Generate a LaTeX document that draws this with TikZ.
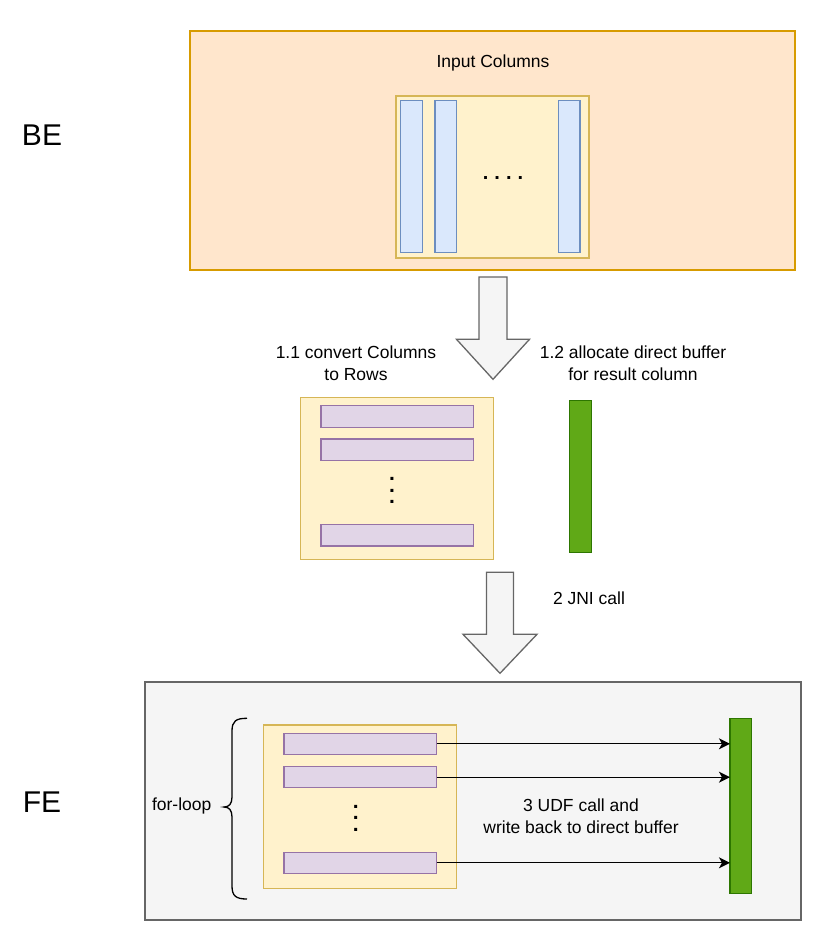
\documentclass[tikz,border=0pt]{standalone}
\usepackage{fontspec}
\setmainfont{Liberation Sans}
\usetikzlibrary{arrows.meta}
\definecolor{beFill}{HTML}{FFE6CC}
\definecolor{beLine}{HTML}{D79B00}
\definecolor{yFill}{HTML}{FFF2CC}
\definecolor{yLine}{HTML}{D6B656}
\definecolor{bFill}{HTML}{DAE8FC}
\definecolor{bLine}{HTML}{6C8EBF}
\definecolor{pFill}{HTML}{E1D5E7}
\definecolor{pLine}{HTML}{9673A6}
\definecolor{gFill}{HTML}{60A917}
\definecolor{gLine}{HTML}{2D7600}
\definecolor{feFill}{HTML}{F5F5F5}
\definecolor{feLine}{HTML}{666666}
\tikzset{
  base/.style={inner sep=0pt, outer sep=0pt, line width=1.3pt, draw},
  bebox/.style={base, fill=beFill, draw=beLine},
  ybox/.style={base, fill=yFill, draw=yLine},
  colbox/.style={base, fill=bFill, draw=bLine},
  rowbox/.style={base, fill=pFill, draw=pLine},
  gbox/.style={base, fill=gFill, draw=gLine},
  febox/.style={base, fill=feFill, draw=feLine},
  blockarrow/.style={fill=feFill, draw=feLine, line width=1.3pt, line join=miter},
  lbl/.style={inner sep=0pt, font=\fontsize{17.5}{22}\selectfont, align=center},
  big/.style={inner sep=0pt, font=\fontsize{30}{36}\selectfont},
  vdots/.style={inner sep=0pt, font=\fontsize{21}{11.5}\selectfont\bfseries, align=center},
  conn/.style={line width=1.3pt, -{Stealth[length=11pt,width=11pt,inset=3pt]}},
}
\begin{document}
\begin{tikzpicture}[x=1pt,y=-1pt]
\useasboundingbox (0,0) rectangle (832,948);
% BE section
\node[big] (belbl) at (42,135) {BE};
\node[bebox, minimum width=605, minimum height=239] (be) at (492.5,150.5) {};
\node[lbl] (inlbl) at (493,63) {Input Columns};
\node[ybox, minimum width=193, minimum height=162] (incol) at (492.5,177) {};
\node[colbox, minimum width=21.6, minimum height=151.6] (c1) at (411.5,176.5) {};
\node[colbox, minimum width=21.6, minimum height=151.6] (c2) at (445.8,176.5) {};
\node[colbox, minimum width=21.6, minimum height=151.6] (c3) at (569.2,176.5) {};
\node[inner sep=0pt, anchor=base, font=\fontsize{20}{12}\selectfont\bfseries] (hdots) at (503,179) {.\hspace{6pt}.\hspace{6pt}.\hspace{6pt}.};
% block arrow 1
\draw[blockarrow] (479,277) -- (507,277) -- (507,339.3) -- (529.5,339.3) -- (493,379.3) -- (456.5,339.3) -- (479,339.3) -- cycle;
\node[lbl] (t11) at (356,363) {1.1 convert Columns\\to Rows};
\node[lbl] (t12) at (633,363) {1.2 allocate direct buffer\\for result column};
% middle
\node[ybox, minimum width=193, minimum height=162] (rows) at (397.2,478.3) {};
\node[rowbox, minimum width=152.3, minimum height=21.6] (m1) at (397.2,416.5) {};
\node[rowbox, minimum width=152.3, minimum height=21.6] (m2) at (397.2,449.8) {};
\node[rowbox, minimum width=152.3, minimum height=21.6] (m3) at (397.2,535.2) {};
\node[vdots] (mdots) at (392,490.5) {.\\.\\.};
\node[gbox, minimum width=22.4, minimum height=152] (g1) at (580.5,476.7) {};
% block arrow 2
\draw[blockarrow] (486.5,572.3) -- (513.5,572.3) -- (513.5,634.3) -- (537,634.3) -- (500,673.3) -- (463,634.3) -- (486.5,634.3) -- cycle;
\node[lbl] (t2) at (589,598) {2 JNI call};
% FE section
\node[big] (felbl) at (42,802) {FE};
\node[febox, minimum width=656, minimum height=238] (fe) at (473,801) {};
\node[ybox, minimum width=193.4, minimum height=163.3] (loop) at (360,806.7) {};
\node[rowbox, minimum width=152.7, minimum height=21] (r1) at (360.3,743.8) {};
\node[rowbox, minimum width=152.7, minimum height=21] (r2) at (360.3,777.2) {};
\node[rowbox, minimum width=152.7, minimum height=21] (r3) at (360.3,862.8) {};
\node[vdots] (fdots) at (355.7,818) {.\\.\\.};
\node[gbox, minimum width=21.7, minimum height=175] (g2) at (740.8,805.8) {};
\draw[conn] (r1.east) -- (g2.west |- r1.east);
\draw[conn] (r2.east) -- (g2.west |- r2.east);
\draw[conn] (r3.east) -- (g2.west |- r3.east);
\node[lbl] (t3) at (581,816) {3 UDF call and\\write back to direct buffer};
% brace
\coordinate (bt) at (247,718.3);
\coordinate (bb) at (247,899);
\draw[line width=1.3pt] (bt) .. controls (236,718.3) and (232,721) .. (232,731) -- (232,797) .. controls (232,804) and (229,807) .. (224,807) .. controls (229,807) and (232,810) .. (232,817) -- (232,886) .. controls (232,896) and (236,899) .. (bb);
\node[lbl] (fl) at (181.7,806) {for-loop};
\end{tikzpicture}
\end{document}
